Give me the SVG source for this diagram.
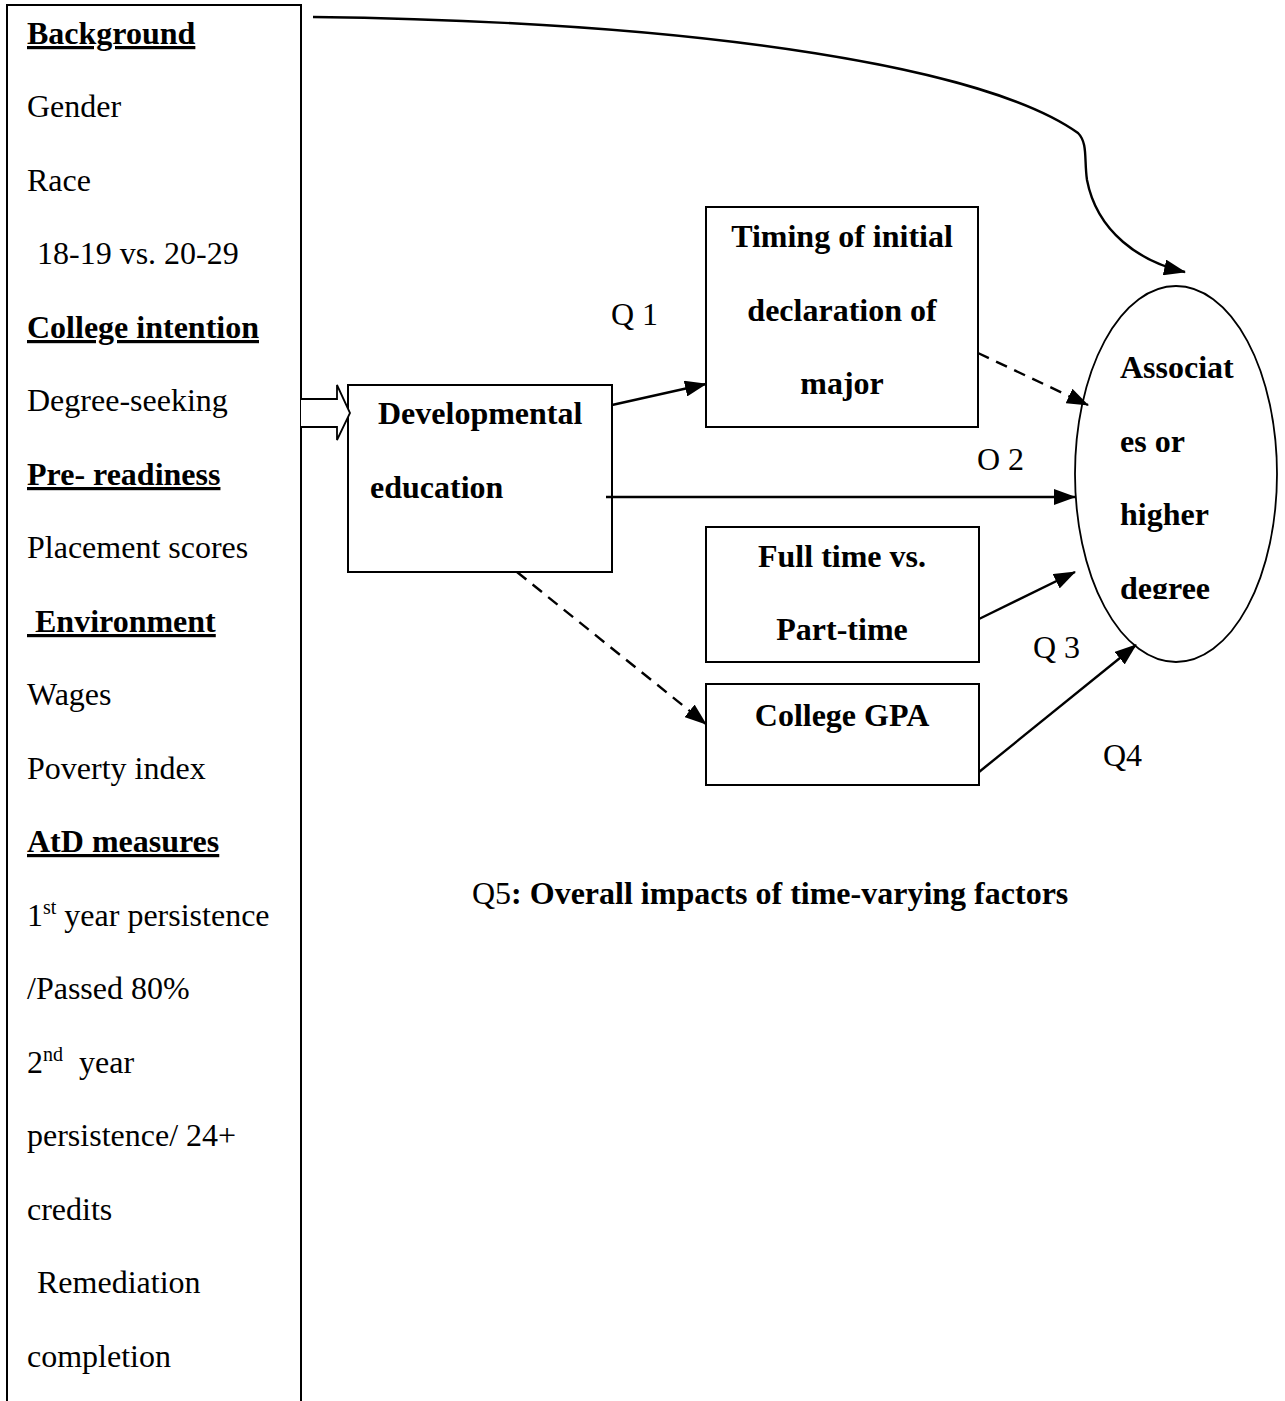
<svg xmlns="http://www.w3.org/2000/svg" width="1285" height="1401" viewBox="0 0 1285 1401">
<style>
text{font-family:"Liberation Serif","Times New Roman",serif;font-size:32px;fill:#000}
.b{font-weight:bold}
.u{font-weight:bold;text-decoration:underline}
.c{text-anchor:middle}
.box{fill:#fff;stroke:#000;stroke-width:2}
.ln{fill:none;stroke:#000;stroke-width:2.4}
.dash{stroke-dasharray:12,8}
</style>
<defs>
<marker id="ah" markerWidth="22" markerHeight="16" refX="21" refY="8" orient="auto" markerUnits="userSpaceOnUse">
<path d="M0,0 L22,8 L0,16 Z" fill="#000"/>
</marker>
<clipPath id="ec"><rect x="1080" y="280" width="200" height="319"/></clipPath>
</defs>
<rect width="1285" height="1401" fill="#fff"/>

<g id="factors">
<path d="M7,1410 V5 H301 V1410" class="box"/>
<text x="27" y="44" class="u">Background</text>
<text x="27" y="117">Gender</text>
<text x="27" y="191">Race</text>
<text x="37" y="264">18-19 vs. 20-29</text>
<text x="27" y="338" class="u">College intention</text>
<text x="27" y="411">Degree-seeking</text>
<text x="27" y="485" class="u">Pre- readiness</text>
<text x="27" y="558">Placement scores</text>
<text x="27" y="632" class="u">&#160;Environment</text>
<text x="27" y="705">Wages</text>
<text x="27" y="779">Poverty index</text>
<text x="27" y="852" class="u">AtD measures</text>
<text x="27" y="926">1<tspan font-size="20" dy="-12">st</tspan><tspan dy="12"> year persistence</tspan></text>
<text x="27" y="999">/Passed 80%</text>
<text x="27" y="1073">2<tspan font-size="20" dy="-12">nd</tspan><tspan dy="12">&#160; year</tspan></text>
<text x="27" y="1146">persistence/ 24+</text>
<text x="27" y="1220">credits</text>
<text x="37" y="1293">Remediation</text>
<text x="27" y="1367">completion</text>
</g>

<g id="dev">
<rect x="348" y="385" width="264" height="187" class="box"/>
<text x="378" y="424" class="b">Developmental</text>
<text x="370" y="498" class="b">education</text>
</g>

<g id="timing">
<rect x="706" y="207" width="272" height="220" class="box"/>
<text x="842" y="247" class="b c">Timing of initial</text>
<text x="842" y="321" class="b c">declaration of</text>
<text x="842" y="394" class="b c">major</text>
</g>

<g id="fulltime">
<rect x="706" y="527" width="273" height="135" class="box"/>
<text x="842" y="567" class="b c">Full time vs.</text>
<text x="842" y="640" class="b c">Part-time</text>
</g>

<g id="gpa">
<rect x="706" y="684" width="273" height="101" class="box"/>
<text x="842" y="726" class="b c">College GPA</text>
</g>

<g id="outcome">
<ellipse cx="1176" cy="474" rx="101" ry="188" fill="#fff" stroke="#000" stroke-width="1.8"/>
<g clip-path="url(#ec)">
<text x="1120" y="378" class="b">Associat</text>
<text x="1120" y="452" class="b">es or</text>
<text x="1120" y="525" class="b">higher</text>
<text x="1120" y="599" class="b">degree</text>
</g>
</g>

<g id="connectors">
<path d="M301,399 H337 V385 L350,413 L337,440 V427 H301" fill="#fff" stroke="#000" stroke-width="1.8"/>
<path d="M313,17 C720,22 990,70 1078,133 C1088,143 1084,160 1087,180 C1097,232 1140,262 1185,272" class="ln" marker-end="url(#ah)"/>
<line x1="612" y1="405" x2="706" y2="384" class="ln" marker-end="url(#ah)"/>
<line x1="978" y1="353" x2="1088" y2="405" class="ln dash" marker-end="url(#ah)"/>
<line x1="606" y1="497" x2="1075" y2="497" class="ln" marker-end="url(#ah)"/>
<line x1="979" y1="619" x2="1075" y2="572" class="ln" marker-end="url(#ah)"/>
<line x1="979" y1="772" x2="1136" y2="645" class="ln" marker-end="url(#ah)"/>
<line x1="517" y1="572" x2="706" y2="724" class="ln dash" marker-end="url(#ah)"/>
</g>

<g id="labels">
<text x="611" y="325">Q 1</text>
<text x="977" y="470">O 2</text>
<text x="1033" y="658">Q 3</text>
<text x="1103" y="766">Q4</text>
<text x="472" y="904">Q5<tspan class="b">: Overall impacts of time-varying factors</tspan></text>
</g>
</svg>
